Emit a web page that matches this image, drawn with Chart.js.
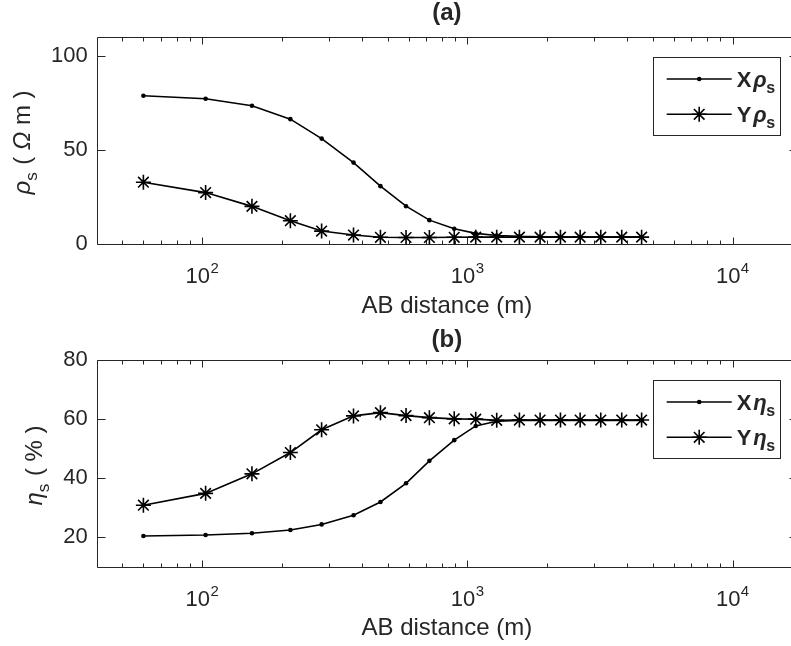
<!DOCTYPE html>
<html><head><meta charset="utf-8">
<script src="https://cdn.jsdelivr.net/npm/chart.js@4/dist/chart.umd.min.js"></script>
<style>
html,body{margin:0;padding:0;background:#fff;overflow:hidden;}
#wrap{position:relative;width:791px;height:646px;overflow:hidden;background:#fff;}
.box{position:absolute;left:0;width:800px;height:323px;}
</style></head><body>
<div id="wrap">
<div class="box" style="top:0"><canvas id="c1" width="800" height="323"></canvas></div>
<div class="box" style="top:323px"><canvas id="c2" width="800" height="323"></canvas></div>
</div>
<script>
// ---- data ----
const abDistance = [60, 103, 154, 215, 282, 372, 470, 587, 719, 892, 1075, 1290, 1571, 1880, 2244, 2662, 3184, 3820, 4540];
const xRho = [78.7, 77.1, 73.4, 66.3, 56.0, 43.3, 30.8, 20.2, 12.8, 8.2, 5.8, 4.7, 4.2, 4.0, 3.9, 3.9, 3.9, 3.9, 3.9];
const yRho = [32.9, 27.4, 20.1, 12.5, 7.0, 4.9, 3.7, 3.6, 3.6, 3.7, 3.8, 3.8, 3.8, 3.8, 3.8, 3.8, 3.8, 3.8, 3.8];
const xEta = [20.5, 20.8, 21.4, 22.5, 24.4, 27.5, 32.0, 38.3, 45.9, 52.9, 57.7, 59.3, 59.6, 59.6, 59.6, 59.6, 59.6, 59.6, 59.6];
const yEta = [30.9, 34.9, 41.5, 48.7, 56.4, 61.1, 62.2, 61.2, 60.5, 60.1, 60.0, 59.6, 59.7, 59.7, 59.7, 59.7, 59.7, 59.7, 59.7];
const rhoTicks = [0, 50, 100];
const etaTicks = [20, 40, 60, 80];
const xMajorTicks = [100, 1000, 10000];
const panelTitles = ['(a)', '(b)'];
const xAxisTitle = 'AB distance (m)';

const FONT = '"Liberation Sans", Arial, Helvetica, sans-serif';
const INK = '#262626';
const crisp = v => Math.round(v) + 0.5;
const pts = arr => abDistance.map((d, i) => ({x: d, y: arr[i]}));

function fillRich(ctx, segs, x0, y0) {
  let x = x0;
  for (const s of segs) { ctx.font = s.font; ctx.fillText(s.t, x, y0 + (s.dy || 0)); x += ctx.measureText(s.t).width + (s.gap || 0); }
}
function richWidth(ctx, segs) {
  let t = 0; for (const s of segs) { ctx.font = s.font; t += ctx.measureText(s.t).width + (s.gap || 0); } return t;
}

const matlabAxes = {
  id: 'matlabAxes',
  beforeDatasetsDraw(chart) {
    const {ctx, chartArea: a, scales: {x, y}} = chart;
    const p = chart.options.plugins.matlabAxes;
    ctx.save();
    ctx.strokeStyle = INK; ctx.lineWidth = 1;
    const L = crisp(a.left), R = crisp(a.right), T = crisp(a.top), B = crisp(a.bottom);
    ctx.beginPath();
    ctx.moveTo(R, T); ctx.lineTo(L, T); ctx.lineTo(L, B); ctx.lineTo(R, B); ctx.lineTo(R, T);
    for (let d = 10; d <= 1e5; d *= 10) for (let k = 1; k < 10; k++) {
      const v = k * d; if (v <= x.min || v > x.max) continue;
      const px = crisp(x.getPixelForValue(v)); const len = k === 1 ? 7 : 4;
      ctx.moveTo(px, B); ctx.lineTo(px, B - len);
      ctx.moveTo(px, T); ctx.lineTo(px, T + len);
    }
    for (const v of p.yTicks) {
      const py = crisp(y.getPixelForValue(v));
      ctx.moveTo(L, py); ctx.lineTo(L + 8, py);
      ctx.moveTo(R, py); ctx.lineTo(R - 8, py);
    }
    ctx.stroke();
    // x tick labels 10^n
    ctx.fillStyle = INK; ctx.textAlign = 'left'; ctx.textBaseline = 'alphabetic';
    for (const v of xMajorTicks) {
      if (v < x.min || v > x.max) continue;
      const px = x.getPixelForValue(v);
      const segs = [{t: '10', font: `22px ${FONT}`, gap: 0.5}, {t: String(Math.round(Math.log10(v))), font: `15px ${FONT}`, dy: -10}];
      const tw = richWidth(ctx, segs);
      fillRich(ctx, segs, px - tw / 2, a.bottom + 38.6);
    }
    // y axis title (rotated)
    ctx.save();
    const cy = (a.top + a.bottom) / 2 + 2;
    ctx.translate(p.yTitleX, cy); ctx.rotate(-Math.PI / 2);
    const tw = richWidth(ctx, p.yTitle);
    fillRich(ctx, p.yTitle, -tw / 2, 0);
    ctx.restore();
    ctx.restore();
  },
  afterDraw(chart) {
    const {ctx} = chart;
    const p = chart.options.plugins.matlabAxes;
    const lg = p.legend;
    ctx.save();
    ctx.fillStyle = '#fff'; ctx.strokeStyle = INK; ctx.lineWidth = 1;
    ctx.fillRect(lg.x, lg.y, lg.w, lg.h);
    ctx.strokeRect(crisp(lg.x), crisp(lg.y), Math.round(lg.w), Math.round(lg.h));
    chart.data.datasets.forEach((ds, i) => {
      const ry = lg.rows[i];
      ctx.strokeStyle = ds.borderColor; ctx.lineWidth = ds.borderWidth;
      ctx.beginPath(); ctx.moveTo(lg.lineX0, ry); ctx.lineTo(lg.lineX1, ry); ctx.stroke();
      ctx.fillStyle = ds.pointBackgroundColor; ctx.strokeStyle = ds.pointBorderColor;
      ctx.lineWidth = ds.pointBorderWidth;
      Chart.helpers.drawPoint(ctx, {pointStyle: ds.pointStyle, radius: ds.pointRadius, borderWidth: ds.pointBorderWidth, rotation: 0}, (lg.lineX0 + lg.lineX1) / 2, ry);
      ctx.fillStyle = INK; ctx.textAlign = 'left'; ctx.textBaseline = 'alphabetic';
      const segs = [
        {t: ds.label, font: `bold 22px ${FONT}`, gap: 2},
        {t: p.greek, font: `italic bold 22px ${FONT}`, gap: -0.5},
        {t: 's', font: `bold 16px ${FONT}`, dy: 6}
      ];
      fillRich(ctx, segs, lg.textX, ry + 8);
    });
    ctx.restore();
  }
};

function zeroSidePad(s) { s.paddingLeft = 0; s.paddingRight = 0; }

function makePanel(id, cfg) {
  const ch = new Chart(document.getElementById(id), {
    type: 'line',
    data: {
      datasets: [
        {label: 'X', data: pts(cfg.xs), borderColor: '#000', borderWidth: 1.6, tension: 0,
         pointStyle: 'circle', pointRadius: 2.3, pointBackgroundColor: '#000', pointBorderColor: '#000', pointBorderWidth: 0},
        {label: 'Y', data: pts(cfg.ys), borderColor: '#000', borderWidth: 1.6, tension: 0,
         pointStyle: 'star', pointRadius: 7.5, pointBackgroundColor: '#000', pointBorderColor: '#000', pointBorderWidth: 1.6}
      ]
    },
    options: {
      responsive: false, animation: false, devicePixelRatio: 1,
      layout: {autoPadding: false, padding: {left: 0, top: 0, right: 3, bottom: 0}},
      scales: {
        x: {type: 'logarithmic', min: 40, max: 17500,
            ticks: {display: false}, grid: {display: false, drawTicks: false}, border: {display: false},
            title: {display: true, text: xAxisTitle, color: INK, font: {size: 24, family: FONT, lineHeight: 1.2}, padding: {top: 4, bottom: cfg.xTitlePad}},
            afterFit: s => { s.height = 323 - cfg.area.bottom; zeroSidePad(s); }},
        y: {type: 'linear', min: cfg.yMin, max: cfg.yMax,
            ticks: {color: INK, font: {size: 22, family: FONT}, padding: 9},
            grid: {display: false, drawTicks: false}, border: {display: false},
            afterBuildTicks: s => { s.ticks = cfg.yTicks.map(v => ({value: v})); },
            afterFit: s => { s.width = cfg.area.left; zeroSidePad(s); }}
      },
      plugins: {
        legend: {display: false}, tooltip: {enabled: false},
        title: {display: true, text: cfg.title, fullSize: false, color: INK,
                font: {size: 24, weight: 'bold', family: FONT, lineHeight: 1},
                padding: {top: cfg.titlePad[0], bottom: cfg.titlePad[1]}},
        matlabAxes: {yTicks: cfg.yTicks, yTitleX: cfg.yTitleX, yTitle: cfg.yTitle, greek: cfg.greek,
                     legend: {x: 653.3, y: 57.3, w: 126.7, h: 78.3, rows: [79, 114.3], lineX0: 666.7, lineX1: 731.7, textX: 736.7}}
      }
    },
    plugins: [matlabAxes]
  });
  // nudge layout padding so the plot area lands exactly on the target box
  for (let it = 0; it < 3; it++) {
    const a = ch.chartArea, pad = ch.options.layout.padding;
    const dR = a.right - cfg.area.right, dL = a.left - cfg.area.left;
    const dT = a.top - cfg.area.top, dB = a.bottom - cfg.area.bottom;
    if (Math.abs(dR) < 0.2 && Math.abs(dL) < 0.2 && Math.abs(dT) < 0.2 && Math.abs(dB) < 0.2) break;
    pad.right = Math.max(0, pad.right + dR); pad.left = Math.max(0, pad.left - dL);
    pad.top = Math.max(0, pad.top - dT); pad.bottom = Math.max(0, pad.bottom + dB);
    ch.update();
  }
  return ch;
}

makePanel('c1', {
  xs: xRho, ys: yRho, yMin: 0, yMax: 110, yTicks: rhoTicks, title: panelTitles[0],
  area: {left: 96.7, right: 797, top: 36.7, bottom: 244.3},
  titlePad: [1, 11.7], xTitlePad: 2.6, greek: 'ρ', yTitleX: 30,
  yTitle: [{t: 'ρ', font: `italic 24px ${FONT}`}, {t: 's', font: `17px ${FONT}`, dy: 7, gap: 1},
           {t: ' ( ', font: `24px ${FONT}`}, {t: 'Ω', font: `italic 24px ${FONT}`}, {t: ' m )', font: `24px ${FONT}`}]
});
makePanel('c2', {
  xs: xEta, ys: yEta, yMin: 10, yMax: 80, yTicks: etaTicks, title: panelTitles[1],
  area: {left: 96.7, right: 797, top: 37, bottom: 244},
  titlePad: [5.5, 7.5], xTitlePad: 3.6, greek: 'η', yTitleX: 42,
  yTitle: [{t: 'η', font: `italic 24px ${FONT}`}, {t: 's', font: `17px ${FONT}`, dy: 7, gap: 1},
           {t: ' ( % )', font: `24px ${FONT}`}]
});
</script>
</body></html>
